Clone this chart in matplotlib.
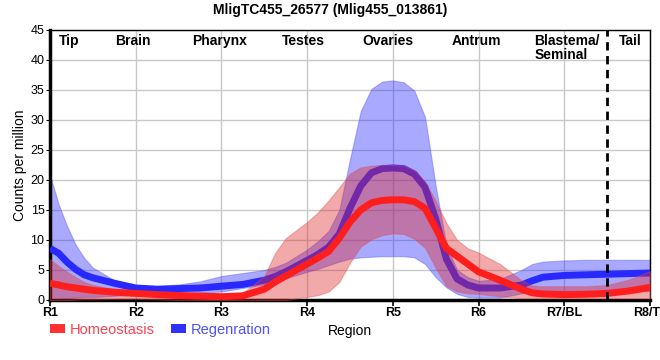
import matplotlib
matplotlib.use("Agg")
import matplotlib.pyplot as plt
from matplotlib.patches import Patch

plt.rcParams['font.family'] = ['Liberation Sans', 'DejaVu Sans']

# positions along the body (R1 = 0 ... R8 = 7)
pos = [0, 0.1, 0.2, 0.3, 0.4, 0.5, 0.75, 1, 1.25, 1.5, 1.75, 2, 2.25, 2.5, 2.625, 2.75,
       3, 3.125, 3.25, 3.375, 3.5, 3.625, 3.75, 3.875, 4, 4.125, 4.25, 4.375, 4.5, 4.625,
       4.75, 4.875, 5, 5.25, 5.5, 5.625, 5.75, 6, 6.25, 6.5, 6.75, 7]

# Regeneration (blue)
regen_mean = [8.6, 7.8, 6.3, 5.1, 4.2, 3.7, 2.8, 2.0, 1.8, 1.9, 2.0, 2.3, 2.6, 3.3, 3.9, 4.7,
              6.6, 7.6, 8.8, 11.0, 15.3, 19.0, 21.2, 21.9, 22.0, 21.9, 21.0, 18.8, 13.5, 6.8,
              3.5, 2.5, 2.0, 2.0, 2.5, 3.2, 3.8, 4.1, 4.2, 4.3, 4.4, 4.5]
regen_hi = [20.8, 16.0, 12.3, 9.2, 7.0, 5.4, 3.3, 2.4, 2.3, 2.6, 3.1, 4.0, 4.5, 5.0, 5.5, 6.2,
            8.4, 9.8, 11.5, 15.0, 23.5, 31.5, 35.2, 36.4, 36.6, 36.3, 34.9, 30.5, 19.0, 9.0,
            5.0, 3.8, 3.2, 3.5, 5.0, 6.0, 6.4, 6.6, 6.7, 6.7, 6.7, 6.7]
regen_lo = [0.1, 0.2, 0.3, 0.4, 0.5, 0.5, 0.7, 0.9, 1.0, 1.1, 1.2, 1.4, 2.0, 2.6, 3.0, 3.6,
            4.7, 5.2, 5.8, 6.4, 6.9, 7.1, 7.2, 7.3, 7.3, 7.3, 7.1, 6.0, 3.8, 2.1,
            1.0, 0.5, 0.4, 0.4, 1.1, 1.4, 1.5, 1.5, 1.5, 1.5, 1.5, 1.5]

# Homeostasis (red)
homeo_mean = [2.8, 2.5, 2.2, 2.0, 1.8, 1.6, 1.3, 1.1, 0.9, 0.75, 0.65, 0.55, 0.7, 1.8, 3.0, 4.0,
              6.0, 7.0, 8.1, 10.3, 13.0, 15.0, 16.2, 16.6, 16.7, 16.7, 16.4, 15.3, 12.0, 8.6,
              7.3, 6.0, 4.7, 3.3, 1.8, 1.2, 1.0, 0.9, 0.95, 1.1, 1.5, 2.1]
homeo_hi = [6.8, 5.7, 4.7, 3.8, 3.0, 2.5, 1.8, 1.5, 1.3, 1.2, 1.1, 1.0, 1.2, 4.0, 7.8, 10.3,
            13.0, 14.6, 16.6, 18.8, 21.1, 22.1, 22.4, 22.5, 22.5, 22.4, 21.6, 19.8, 16.5, 12.8,
            10.0, 8.6, 7.9, 6.0, 3.3, 2.4, 2.3, 2.3, 2.3, 2.5, 3.4, 4.8]
homeo_lo = [0.0, 0.0, 0.0, 0.05, 0.1, 0.1, 0.2, 0.2, 0.1, 0.0, 0.0, 0.0, 0.0, 0.0, 0.0, 0.0,
            0.5, 0.8, 1.4, 3.0, 6.2, 8.9, 10.1, 10.8, 11.1, 11.0, 10.2, 8.7, 5.3, 2.3,
            1.4, 1.1, 1.0, 0.6, 0.3, 0.3, 0.3, 0.3, 0.3, 0.3, 0.3, 0.3]

tick_pos = [0, 1, 2, 3, 4, 5, 6, 7]
tick_labels = ['R1', 'R2', 'R3', 'R4', 'R5', 'R6', 'R7/BL', 'R8/TL']
region_names = ['Tip', 'Brain', 'Pharynx', 'Testes', 'Ovaries', 'Antrum', 'Blastema/\nSeminal', 'Tail']
region_x = [0.22, 0.97, 1.98, 2.96, 3.94, 4.98, 5.65, 6.77]

fig = plt.figure(figsize=(6.6, 3.6), dpi=100)
ax = fig.add_axes([50/660, 60/360, 600/660, 270/360])

blue = '#2828ff'
red = '#ff1e1e'

ax.fill_between(pos, regen_lo, regen_hi, facecolor='#2a2aff', edgecolor='#5050ff',
                alpha=0.4, lw=0.8, zorder=2)
ax.plot(pos, regen_mean, color=blue, lw=5, solid_capstyle='butt', zorder=3)
ax.fill_between(pos, homeo_lo, homeo_hi, facecolor='#e02828', edgecolor='#e05050',
                alpha=0.4, lw=0.8, zorder=4)
ax.plot(pos, homeo_mean, color=red, lw=5, solid_capstyle='butt', zorder=5)

ax.axvline(6.5, color='black', lw=2, ls=(0, (3, 2)), zorder=6)

ax.set_xlim(0, 7)
ax.set_ylim(0, 45)
ax.set_yticks(range(0, 46, 5))
ax.set_xticks(tick_pos)
ax.set_xticklabels(tick_labels, fontweight='bold', fontsize=9)
ax.tick_params(axis='y', labelsize=9, length=3, pad=1)
ax.tick_params(axis='x', length=4, width=1.2, pad=1)
ax.grid(True, color='#c8c8c8', lw=1)
ax.set_axisbelow(True)
for s in ['top', 'right']:
    ax.spines[s].set_linewidth(1)
ax.spines['left'].set_linewidth(2.5)
ax.spines['bottom'].set_linewidth(2.5)

for name, xr in zip(region_names, region_x):
    if '\n' in name:
        ax.text(xr, 44.3, name, ha='left', va='top', fontweight='bold', fontsize=10,
                linespacing=1.0, zorder=7)
    else:
        ax.text(xr, 44.3, name, ha='center', va='top', fontweight='bold', fontsize=10, zorder=7)

fig.text(330/660, 1 - 10/360, 'MligTC455_26577 (Mlig455_013861)', ha='center', va='center',
         fontweight='bold', fontsize=10)
fig.text(20/660, 1 - 165/360, 'Counts per million', rotation=90, ha='center', va='center',
         fontsize=10)
fig.text(350/660, 1 - 331/360, 'Region', ha='center', va='center', fontsize=10)

handles = [Patch(facecolor='#ff3030', edgecolor='none'), Patch(facecolor='#3030ff', edgecolor='none')]
leg = fig.legend(handles, ['Homeostasis', 'Regenration'], loc='center left',
                 bbox_to_anchor=(50/660, 1 - 330/360), ncol=2, frameon=False,
                 fontsize=10.5, handlelength=1.05, handleheight=0.55,
                 handletextpad=0.3, columnspacing=1.1, borderaxespad=0, borderpad=0)
leg.get_texts()[0].set_color('#ff4050')
leg.get_texts()[1].set_color('#5050ff')

fig.savefig('out.png', dpi=100)
